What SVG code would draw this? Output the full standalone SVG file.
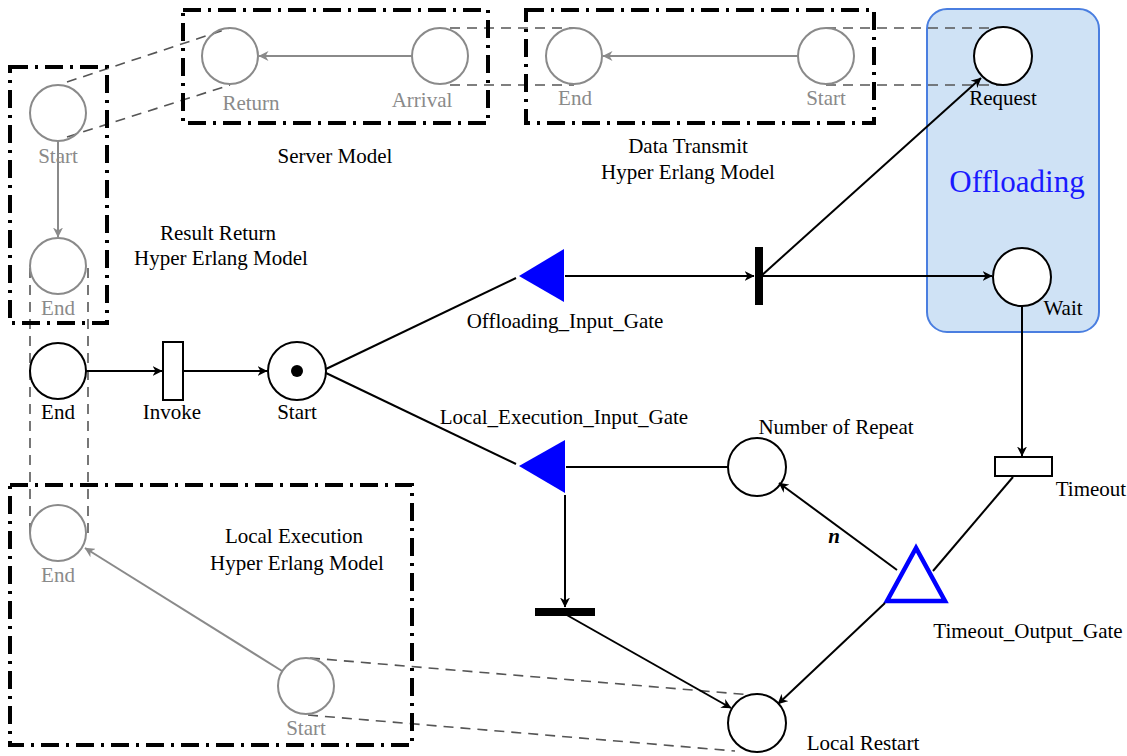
<svg xmlns="http://www.w3.org/2000/svg" width="1127" height="756" viewBox="0 0 1127 756">
  <defs>
    <marker id="arr" viewBox="0 0 10 10" refX="9.5" refY="5" markerWidth="10" markerHeight="10" markerUnits="userSpaceOnUse" orient="auto">
      <path d="M0,0 L10,5 L0,10 L3,5 z" fill="#000"/>
    </marker>
    <marker id="arrGray" viewBox="0 0 10 10" refX="9.5" refY="5" markerWidth="10" markerHeight="10" markerUnits="userSpaceOnUse" orient="auto">
      <path d="M0,0 L10,5 L0,10 L3,5 z" fill="#8a8a8a"/>
    </marker>
    <style>
      text { font-family: "Liberation Serif", "Times New Roman", serif; font-size: 21px; text-anchor: middle; fill: #000; }
      .gt { fill: #8a8a8a; }
      .place { fill: #fff; stroke: #000; stroke-width: 2; }
      .gplace { fill: none; stroke: #8a8a8a; stroke-width: 2; }
      .frame { fill: none; stroke: #000; stroke-width: 4; stroke-dasharray: 18 7 3 7; }
      .proj { fill: none; stroke: #555; stroke-width: 1.6; stroke-dasharray: 10 7; }
      .arc { fill: none; stroke: #000; stroke-width: 2; }
      .garc { fill: none; stroke: #8a8a8a; stroke-width: 2; }
    </style>
  </defs>

  <!-- Offloading region -->
  <g id="offloading-region">
    <rect x="927" y="9" width="172" height="323" rx="20" ry="20" fill="#cfe2f5" stroke="#4a7ee0" stroke-width="2"/>
    <text x="1017" y="192" style="font-size:31px;fill:#1a1aff">Offloading</text>
  </g>

  <!-- projection lines between sub-models -->
  <g id="projections">
    <line class="proj" x1="67" y1="82" x2="230" y2="28"/>
    <line class="proj" x1="67" y1="137" x2="230" y2="85"/>
    <line class="proj" x1="450" y1="28" x2="574" y2="28"/>
    <line class="proj" x1="450" y1="85" x2="574" y2="85"/>
    <line class="proj" x1="826" y1="28" x2="1003" y2="28"/>
    <line class="proj" x1="826" y1="85" x2="1003" y2="85"/>
    <line class="proj" x1="30" y1="268" x2="30" y2="533"/>
    <line class="proj" x1="88" y1="268" x2="88" y2="533"/>
    <line class="proj" x1="310" y1="658" x2="752" y2="695"/>
    <line class="proj" x1="308" y1="715" x2="735" y2="751"/>
  </g>

  <!-- sub-model frames -->
  <g id="frames">
    <rect id="server-model" class="frame" x="183" y="10" width="305" height="113"/>
    <rect id="data-transmit-model" class="frame" x="526" y="10" width="348" height="113"/>
    <rect id="result-return-model" class="frame" x="10" y="67" width="97" height="256"/>
    <rect id="local-execution-model" class="frame" x="10" y="485" width="402" height="260"/>
    <text x="335" y="163">Server Model</text>
    <text x="688" y="153">Data Transmit</text>
    <text x="688" y="179">Hyper Erlang Model</text>
    <text x="218" y="240">Result Return</text>
    <text x="221" y="265">Hyper Erlang Model</text>
    <text x="294" y="543">Local Execution</text>
    <text x="297" y="570">Hyper Erlang Model</text>
  </g>

  <!-- sub-model places -->
  <g id="server-return"><circle class="gplace" cx="230" cy="56" r="28"/><text class="gt" x="251" y="110">Return</text></g>
  <g id="server-arrival"><circle class="gplace" cx="440" cy="56" r="28"/><text class="gt" x="422" y="107">Arrival</text></g>
  <g id="dt-end"><circle class="gplace" cx="574" cy="56" r="28"/><text class="gt" x="575" y="105">End</text></g>
  <g id="dt-start"><circle class="gplace" cx="826" cy="56" r="28"/><text class="gt" x="826" y="105">Start</text></g>
  <g id="rr-start"><circle class="gplace" cx="58" cy="113" r="28"/><text class="gt" x="58" y="163">Start</text></g>
  <g id="rr-end"><circle class="gplace" cx="58" cy="266" r="28"/><text class="gt" x="58" y="315">End</text></g>
  <g id="le-end"><circle class="gplace" cx="58" cy="533" r="28"/><text class="gt" x="58" y="582">End</text></g>
  <g id="le-start"><circle class="gplace" cx="306" cy="686" r="28"/><text class="gt" x="306" y="735">Start</text></g>

  <!-- main net nodes -->
  <g id="request"><circle class="place" cx="1003" cy="56" r="29"/><text x="1003" y="105">Request</text></g>
  <g id="wait"><circle class="place" cx="1022" cy="277" r="29"/><text x="1063" y="315">Wait</text></g>
  <g id="end"><circle class="place" cx="58" cy="371" r="28"/><text x="58" y="419">End</text></g>
  <g id="invoke"><rect x="163" y="342" width="20" height="58" fill="#fff" stroke="#000" stroke-width="2"/><text x="172" y="419">Invoke</text></g>
  <g id="start"><circle class="place" cx="297" cy="371" r="29"/><circle cx="297" cy="371" r="6" fill="#000"/><text x="297" y="419">Start</text></g>
  <g id="offloading-input-gate"><path d="M519,276 L564,249 L564,302 z" fill="#0000ff"/><text x="565" y="328">Offloading_Input_Gate</text></g>
  <g id="offload-transition"><rect x="755" y="247" width="8" height="58" fill="#000"/></g>
  <g id="local-execution-input-gate"><path d="M519,466 L565,440 L565,493 z" fill="#0000ff"/><text x="564" y="424">Local_Execution_Input_Gate</text></g>
  <g id="local-transition"><rect x="535" y="608" width="60" height="8" fill="#000"/></g>
  <g id="number-of-repeat"><circle class="place" cx="757" cy="467" r="29"/><text x="836" y="434">Number of Repeat</text></g>
  <g id="timeout"><rect x="995" y="457" width="57" height="19" fill="#fff" stroke="#000" stroke-width="2"/><text x="1091" y="496">Timeout</text></g>
  <g id="timeout-output-gate"><path d="M916,548 L887,601 L945,601 z" fill="none" stroke="#0000ff" stroke-width="4.5" stroke-linejoin="miter"/><text x="1028" y="638">Timeout_Output_Gate</text></g>
  <g id="local-restart"><circle class="place" cx="757" cy="723" r="29"/><text x="863" y="750">Local Restart</text></g>

  <!-- connectors -->
  <g id="connectors">
    <line class="garc" x1="412" y1="56" x2="259" y2="56" marker-end="url(#arrGray)"/>
    <line class="garc" x1="798" y1="56" x2="603" y2="56" marker-end="url(#arrGray)"/>
    <line class="garc" x1="58" y1="141" x2="58" y2="237" marker-end="url(#arrGray)"/>
    <line class="garc" x1="282" y1="671" x2="85" y2="548" marker-end="url(#arrGray)"/>

    <line class="arc" x1="86" y1="371" x2="162" y2="371" marker-end="url(#arr)"/>
    <line class="arc" x1="184" y1="371" x2="267" y2="371" marker-end="url(#arr)"/>
    <line class="arc" x1="326" y1="369" x2="516" y2="278"/>
    <line class="arc" x1="326" y1="373" x2="516" y2="464"/>
    <line class="arc" x1="565" y1="276" x2="754" y2="276" marker-end="url(#arr)"/>
    <line class="arc" x1="763" y1="276" x2="992" y2="276" marker-end="url(#arr)"/>
    <line class="arc" x1="761" y1="276" x2="981" y2="78" marker-end="url(#arr)"/>
    <line class="arc" x1="1022" y1="306" x2="1022" y2="456" marker-end="url(#arr)"/>
    <line class="arc" x1="1013" y1="477" x2="933" y2="571"/>
    <line class="arc" x1="897" y1="570" x2="779" y2="483" marker-end="url(#arr)"/>
    <text x="834" y="543" style="font-weight:bold;font-style:italic">n</text>
    <line class="arc" x1="885" y1="603" x2="778" y2="704" marker-end="url(#arr)"/>
    <line class="arc" x1="728" y1="467" x2="566" y2="467"/>
    <line class="arc" x1="565" y1="495" x2="565" y2="607" marker-end="url(#arr)"/>
    <line class="arc" x1="565" y1="614" x2="731" y2="708" marker-end="url(#arr)"/>
  </g>
</svg>
